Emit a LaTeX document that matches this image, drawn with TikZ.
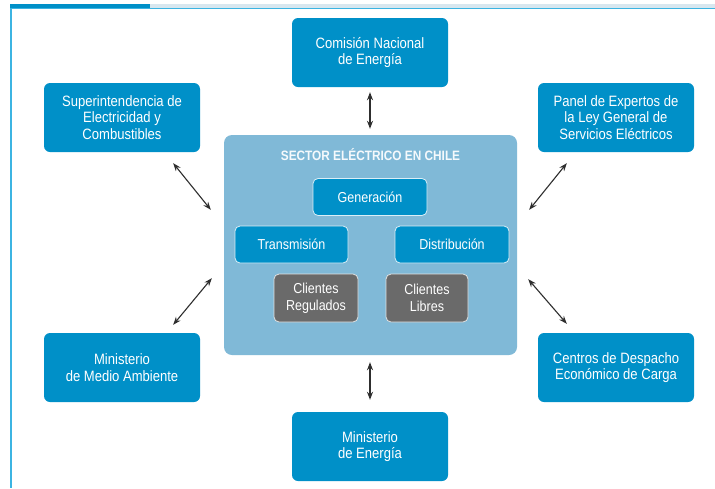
\documentclass[tikz,border=0pt]{standalone}
\usepackage{fontspec}
\setmainfont{Liberation Sans}[FakeStretch=0.87]
\usetikzlibrary{calc,arrows.meta}
\definecolor{boxblue}{HTML}{0090C8}
\definecolor{secblue}{HTML}{80B9D7}
\definecolor{cgrey}{HTML}{6A6A6A}
\definecolor{barlight}{HTML}{D8E7EF}
\definecolor{linecyan}{HTML}{3CB4E2}
\definecolor{arrowgrey}{HTML}{2E2E2E}
\begin{document}
\begin{tikzpicture}[x=1pt,y=-1pt,
  outerbox/.style={draw=none,fill=boxblue,rounded corners=6pt,minimum width=156pt,minimum height=69pt,
    text=white,align=center,inner sep=0pt,font=\fontsize{15}{16.5}\selectfont},
  innerbox/.style={draw=white!85!boxblue,line width=0.8pt,fill=boxblue,rounded corners=5pt,minimum height=37pt,
    text=white,align=center,inner sep=0pt,font=\fontsize{14.4}{16}\selectfont},
  greybox/.style={draw=white!80!cgrey,line width=0.8pt,fill=cgrey,rounded corners=5pt,minimum height=48pt,
    text=white,align=center,inner sep=0pt,font=\fontsize{14.4}{17}\selectfont},
  link/.style={draw=arrowgrey,line width=1.1pt,{Stealth[length=8pt,width=6pt]}-{Stealth[length=8pt,width=6pt]}}
]
\useasboundingbox (0,0) rectangle (715,488);
\fill[white] (0,0) rectangle (715,488);
% frame
\fill[barlight] (150,4) rectangle (715,8);
\fill[boxblue] (10,4) rectangle (150,8);
\draw[linecyan,line width=1.3pt] (10,8.6) -- (715,8.6);
\draw[linecyan,line width=1.6pt] (11,8) -- (11,488);
% sector
\node[fill=secblue,rounded corners=8pt,minimum width=293pt,minimum height=220pt,inner sep=0pt] (sector) at (370.5,245) {};
\node[text=white!92!secblue,font=\fontsize{13.6}{15}\selectfont\bfseries,anchor=base] (title) at (370.5,160) {SECTOR ELÉCTRICO EN CHILE};
\node[innerbox,minimum width=114pt] (gen) at (370,197) {Generación};
\node[innerbox,minimum width=113pt] (tra) at (291.5,244.5) {Transmisión};
\node[innerbox,minimum width=114pt] (dis) at (452,244.5) {Distribución};
\node[greybox,minimum width=84pt] (cr) at (316,298) {Clientes\\Regulados};
\node[greybox,minimum width=82pt] (cl) at (427,298) {Clientes\\Libres};
% outer
\node[outerbox] (com) at (370,52.5) {Comisión Nacional\\de Energía};
\node[outerbox] (sup) at (122,117.5) {Superintendencia de\\Electricidad y\\Combustibles};
\node[outerbox] (pan) at (616,117.5) {Panel de Expertos de\\la Ley General de\\Servicios Eléctricos};
\node[outerbox] (mma) at (122,367.5) {Ministerio\\de Medio Ambiente};
\node[outerbox] (cen) at (616,367.5) {Centros de Despacho\\Económico de Carga};
\node[outerbox] (me) at (370,446.5) {Ministerio\\de Energía};
% links
\draw[link] ($(com.south)+(0,5)$) -- ($(sector.north)+(-0.5,-6)$);
\draw[link] ($(sector.south)+(-0.5,7)$) -- ($(me.north)+(0,-12)$);
\draw[link] ($(sup.south east)+(-27,11)$) -- ($(sector.north west)+(-13,75)$);
\draw[link] ($(pan.south west)+(29,11)$) -- ($(sector.north east)+(12,75)$);
\draw[link] ($(mma.north east)+(-27,-8)$) -- ($(sector.south west)+(-12,-77)$);
\draw[link] ($(cen.north west)+(29,-9)$) -- ($(sector.south east)+(11,-76)$);
\end{tikzpicture}
\end{document}
